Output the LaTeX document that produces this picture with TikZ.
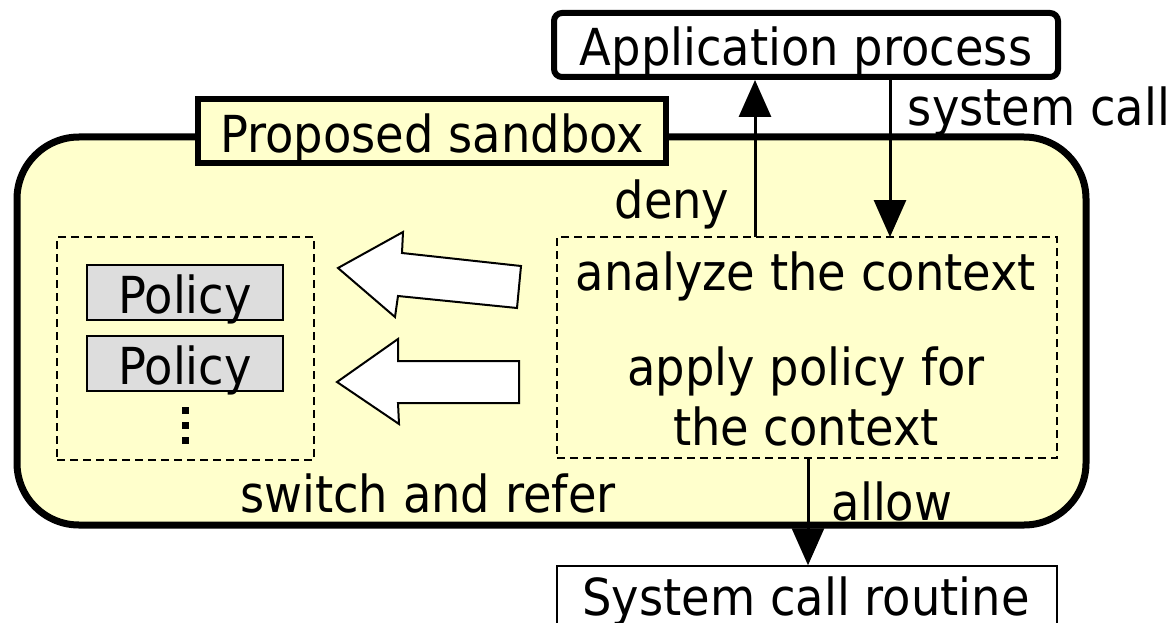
\documentclass[tikz,border=0pt]{standalone}
\usepackage{fontspec}
\setmainfont{DejaVu Sans}[FakeStretch=0.91]
\usetikzlibrary{arrows.meta}
\definecolor{sandyellow}{RGB}{255,255,204}
\definecolor{policygray}{RGB}{221,221,221}
\begin{document}
\begin{tikzpicture}[x=1pt,y=-1pt,
  every node/.style={font=\fontsize{51}{60}\selectfont, inner sep=0pt},
  txt/.style={anchor=base},
  thickbox/.style={draw, line width=6pt, rounded corners=8pt, fill=white},
  dashbox/.style={draw, line width=1.6pt, dash pattern=on 8pt off 5pt},
  policybox/.style={draw, line width=2pt, fill=policygray},
  flowarrow/.style={line width=3pt, -{Triangle[width=32pt,length=37pt]}},
  blockarrow/.style={draw, line width=2pt, fill=white, line join=miter}
]
\useasboundingbox (0,0) rectangle (1172,623);

% sandbox outline and its title
\draw[line width=7pt, fill=sandyellow, rounded corners=62pt] (17,137) rectangle (1086,525);
\node[draw, line width=6pt, fill=sandyellow, minimum width=468pt, minimum height=64pt] (label) at (432,131) {};
\node[txt] (labeltext) at (432,152) {Proposed sandbox};

% application and kernel side boxes
\node[thickbox, minimum width=504pt, minimum height=64pt] (app) at (806,45) {};
\node[txt] (apptext) at (806,66) {Application process};
\node[draw, line width=1.5pt, fill=white, minimum width=500pt, minimum height=80pt] (routine) at (807,606) {};
\node[txt] (routinetext) at (806,615) {System call routine};

% context analysis area
\node[dashbox, minimum width=500pt, minimum height=221pt] (ctx) at (807,347.5) {};
\node[txt] (analyze) at (806,290) {analyze the context};
\node[txt] (apply) at (806,385) {apply policy for};
\node[txt] (applyctx) at (806,445) {the context};

% policy store
\node[dashbox, minimum width=257pt, minimum height=223pt] (store) at (185.5,348.5) {};
\node[policybox, minimum width=196pt, minimum height=55pt] (p1) at (185,292.5) {};
\node[txt] (p1text) at (185,313) {Policy};
\node[policybox, minimum width=196pt, minimum height=55pt] (p2) at (185,363.5) {};
\node[txt] (p2text) at (185,384) {Policy};
\foreach \yy in {410,425,440}
  \fill (182,\yy-3.5) rectangle ++(7,7);

% switch / refer block arrows
\draw[blockarrow] (338,268) -- (403,232) -- (402,253) -- (521,266) -- (517,308) -- (398,296) -- (395,317) -- cycle;
\draw[blockarrow] (337,382) -- (398,339) -- (398,361) -- (519,361) -- (519,403) -- (398,403) -- (399,424) -- cycle;

% connectors
\coordinate (denyfoot) at (755,237);
\coordinate (callfoot) at (890,237);
\coordinate (allowtop) at (808,458);
\draw[flowarrow] (denyfoot) -- (denyfoot |- app.south);
\draw[flowarrow] (callfoot |- app.south) -- (callfoot);
\draw[flowarrow] (allowtop) -- (allowtop |- routine.north);

% labels
\node[txt] (syscall) at (1039,125) {system call};
\node[txt] (deny) at (672,218) {deny};
\node[txt] (allow) at (892,520) {allow};
\node[txt] (switch) at (428,512) {switch and refer};
\end{tikzpicture}
\end{document}
